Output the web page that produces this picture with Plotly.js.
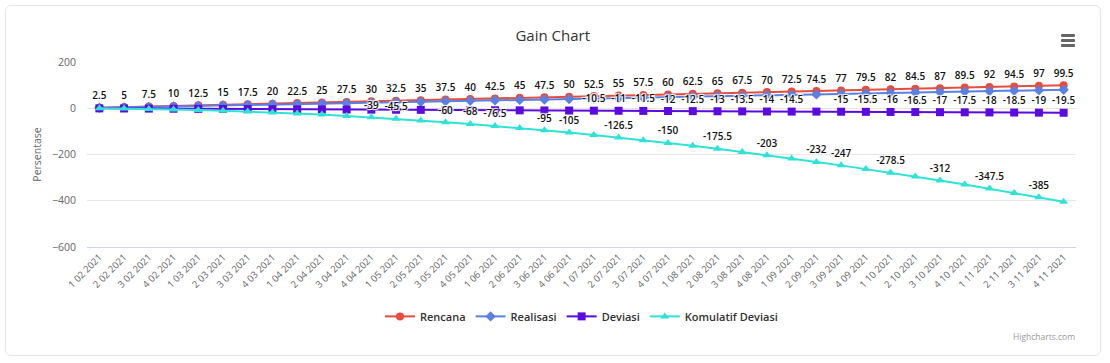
<!DOCTYPE html>
<html>
<head>
<meta charset="utf-8">
<script src="https://cdn.plot.ly/plotly-3.0.1.min.js"></script>
<style>
  html, body { margin:0; padding:0; background:#fff; }
  #card { position:absolute; left:5px; top:5px; width:1096px; height:351px; border:1px solid #e4e4ee; border-radius:6px; box-sizing:border-box; }
  #chart { position:absolute; left:0; top:0; width:1110px; height:363px; }
  #burger { position:absolute; left:1061px; top:34px; width:14px; }
  #burger div { height:2.5px; background:#666; margin-bottom:2.5px; border-radius:1px; }
</style>
</head>
<body>
<div id="card"></div>
<div id="chart"></div>
<div id="burger"><div></div><div></div><div></div></div>
<script>
// ---- data ----
const categories = [
  "1 02 2021","2 02 2021","3 02 2021","4 02 2021",
  "1 03 2021","2 03 2021","3 03 2021","4 03 2021",
  "1 04 2021","2 04 2021","3 04 2021","4 04 2021",
  "1 05 2021","2 05 2021","3 05 2021","4 05 2021",
  "1 06 2021","2 06 2021","3 06 2021","4 06 2021",
  "1 07 2021","2 07 2021","3 07 2021","4 07 2021",
  "1 08 2021","2 08 2021","3 08 2021","4 08 2021",
  "1 09 2021","2 09 2021","3 09 2021","4 09 2021",
  "1 10 2021","2 10 2021","3 10 2021","4 10 2021",
  "1 11 2021","2 11 2021","3 11 2021","4 11 2021"
];
const rencana = [2.5,5,7.5,10,12.5,15,17.5,20,22.5,25,27.5,30,32.5,35,37.5,40,42.5,45,47.5,50,
                 52.5,55,57.5,60,62.5,65,67.5,70,72.5,74.5,77,79.5,82,84.5,87,89.5,92,94.5,97,99.5];
const realisasi = [2,4,6,8,10,12,14,16,18,20,22,24,26,28,30,32,34,36,38,40,
                   42,44,46,48,50,52,54,56,58,60,62,64,66,68,70,72,74,76,78,80];
const deviasi = [-0.5,-1,-1.5,-2,-2.5,-3,-3.5,-4,-4.5,-5,-5.5,-6,-6.5,-7,-7.5,-8,-8.5,-9,-9.5,-10,
                 -10.5,-11,-11.5,-12,-12.5,-13,-13.5,-14,-14.5,-14.5,-15,-15.5,-16,-16.5,-17,-17.5,-18,-18.5,-19,-19.5];
const komulatifDeviasi = [-0.5,-1.5,-3,-5,-7.5,-10.5,-14,-18,-22.5,-27.5,-33,-39,-45.5,-52.5,-60,-68,-76.5,-85.5,-95,-105,
                          -115.5,-126.5,-138,-150,-162.5,-175.5,-189,-203,-217.5,-232,-247,-262.5,-278.5,-295,-312,-329.5,-347.5,-366,-385,-404.5];
// indices whose data labels are visible (others hidden by overlap)
const labelsRencana = categories.map((c,i)=>i);
const labelsRealisasi = [];
const labelsDeviasi = [20,21,22,23,24,25,26,27,28,30,31,32,33,34,35,36,37,38,39];
const labelsKomulatif = [11,12,14,15,16,18,19,21,23,25,27,29,30,32,34,36,38];

function txt(vals, idx){ return vals.map((v,i)=> idx.includes(i) ? String(v) : ""); }

const labelFont = {family:"Open Sans, DejaVu Sans, sans-serif", size:10, color:"#111", weight:600,
                   shadow:"1px 1px 1px #fff, -1px -1px 1px #fff, 1px -1px 1px #fff, -1px 1px 1px #fff"};
const x = categories.map((c,i)=>i);

function series(name, vals, idx, color, symbol){
  return {
    type:"scatter", mode:"lines+markers+text", name:name, x:x, y:vals,
    text: txt(vals, idx), textposition:"top center", textfont:labelFont,
    line:{color:color, width:2}, marker:{color:color, size:8, symbol:symbol},
    cliponaxis:false, hoverinfo:"y+name"
  };
}

const traces = [
  series("Rencana", rencana, labelsRencana, "#e74c3c", "circle"),
  series("Realisasi", realisasi, labelsRealisasi, "#5a80e2", "diamond"),
  series("Deviasi", deviasi, labelsDeviasi, "#5b0be0", "square"),
  series("Komulatif Deviasi", komulatifDeviasi, labelsKomulatif, "#2ee3d6", "triangle-up")
];

const layout = {
  width:1110, height:363,
  margin:{l:87, r:34, t:62, b:116},
  paper_bgcolor:"rgba(0,0,0,0)", plot_bgcolor:"rgba(0,0,0,0)",
  font:{family:"Open Sans, DejaVu Sans, sans-serif", color:"#666"},
  title:{text:"Gain Chart", x:0.498, xanchor:"center", y:1-36/363, yref:"container", yanchor:"middle",
         font:{size:15, color:"#333"}},
  showlegend:true,
  legend:{orientation:"h", x:0.5, xanchor:"center", y:-0.375, yanchor:"middle",
          font:{size:11, color:"#333", weight:600}, itemwidth:30, tracegroupgap:0},
  xaxis:{
    range:[-0.5, 39.5], tickmode:"array", tickvals:x, ticktext:categories, tickangle:-45,
    tickfont:{size:9.5, color:"#666"}, showgrid:false, zeroline:false,
    showline:true, linecolor:"#ccd6eb", linewidth:1, ticks:"", fixedrange:true
  },
  yaxis:{
    range:[-600, 200], dtick:200, tickfont:{size:10.5, color:"#666"},
    gridcolor:"#e6e6e6", zeroline:true, zerolinecolor:"#e6e6e6", zerolinewidth:1,
    showline:false, ticklabelstandoff:10,
    title:{text:"Persentase", font:{size:10.5, color:"#666"}, standoff:8}, fixedrange:true
  },
  annotations:[
    {text:"Highcharts.com", xref:"paper", yref:"paper", x:(1077-87)/989, xanchor:"right",
     y:-(336-247)/185, yanchor:"middle", showarrow:false, font:{size:8.5, color:"#999"}}
  ]
};

Plotly.newPlot("chart", traces, layout, {displayModeBar:false, responsive:false});
</script>
</body>
</html>
